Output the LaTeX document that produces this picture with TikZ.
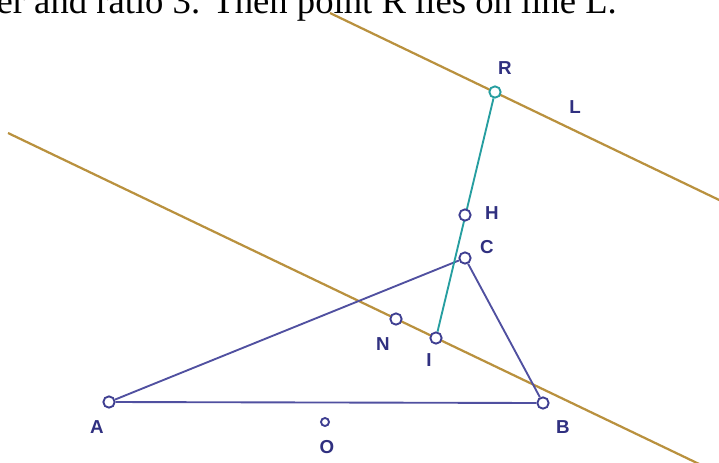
\documentclass[tikz,border=0pt]{standalone}
\usepackage{fontspec}
\setmainfont{Liberation Serif}
\setsansfont{Liberation Sans}
\usepackage{tikz}
\usetikzlibrary{calc}
\definecolor{ptblue}{RGB}{62,62,145}
\definecolor{lnblue}{RGB}{80,80,160}
\definecolor{lblblue}{RGB}{48,48,128}
\definecolor{tealR}{RGB}{38,158,160}
\definecolor{brownL}{RGB}{185,145,62}

\begin{document}
\begin{tikzpicture}[x=0.03cm,y=-0.03cm,
    pt/.style={circle,draw=ptblue,line width=1.6pt,fill=white,inner sep=0pt,minimum size=0.34cm},
    lbl/.style={text=lblblue,font=\sffamily\bfseries\fontsize{16}{16}\selectfont,inner sep=0pt}]
        % frame of the picture, in pixels
        \useasboundingbox (0,0) rectangle (719,462);
        \clip (0,0) rectangle (719,462);

        % cut line of text above
        \node[anchor=base east,inner sep=0pt,font=\fontsize{31.3}{32}\selectfont] (txt) at (617,13)
            {er and ratio 3. Then point R lies on line L.};

        % two parallel lines, the upper one is L
        \coordinate (L1) at (330,13);
        \coordinate (L2) at (740,210);
        \coordinate (M1) at (8,133);
        \coordinate (M2) at (720,474);
        \draw[brownL,line width=1.9pt] (L1) -- (L2);
        \draw[brownL,line width=1.9pt] (M1) -- (M2);

        % points
        \node[pt] (A) at (109,402) {};
        \node[pt] (B) at (543,403) {};
        \node[pt] (C) at (465,258) {};
        \node[pt] (N) at (396,319) {};
        \node[pt] (I) at (436,338) {};
        \node[pt,draw=tealR] (R) at (495,92) {};
        \node[pt,minimum size=0.24cm] (O) at (325,422) {};

        % triangle ABC
        \draw[lnblue,line width=1.6pt] (A) -- (B) -- (C) -- (A);
        % segment IR
        \draw[tealR,line width=1.6pt] (I) -- (R);
        \node[pt] (H) at (465,215) {};

        \node[lbl] (lA) at (97,427) {A};
        \node[lbl] (lB) at (563,427) {B};
        \node[lbl] (lC) at (487,247) {C};
        \node[lbl] (lH) at (492,213) {H};
        \node[lbl] (lR) at (505,68) {R};
        \node[lbl] (lL) at (575,107) {L};
        \node[lbl] (lN) at (383,344) {N};
        \node[lbl] (lI) at (429,360) {I};
        \node[lbl] (lO) at (327,447) {O};
    \end{tikzpicture}
\end{document}
